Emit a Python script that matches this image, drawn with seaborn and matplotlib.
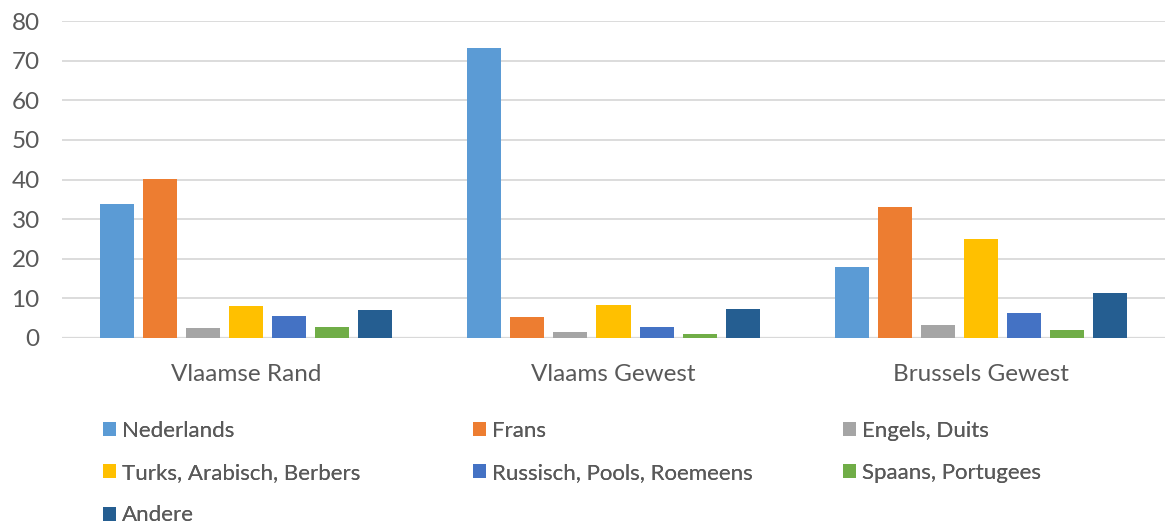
import numpy as np
import pandas as pd
import matplotlib
matplotlib.use("Agg")
import matplotlib.pyplot as plt
import seaborn as sns
from matplotlib.patches import Patch

# data
regions = ["Vlaamse Rand", "Vlaams Gewest", "Brussels Gewest"]
languages = ["Nederlands", "Frans", "Engels, Duits", "Turks, Arabisch, Berbers",
             "Russisch, Pools, Roemeens", "Spaans, Portugees", "Andere"]
nederlands = [33.7, 73.1, 17.9]
frans = [40.2, 5.3, 33.1]
engels_duits = [2.5, 1.4, 3.4]
turks_arabisch = [8.0, 8.3, 25.0]
russisch_pools = [5.6, 2.9, 6.4]
spaans_portugees = [2.9, 1.0, 2.1]
andere = [7.1, 7.4, 11.3]
colors = ["#5B9BD5", "#ED7D31", "#A5A5A5", "#FFC000", "#4472C4", "#70AD47", "#255E91"]

series = [nederlands, frans, engels_duits, turks_arabisch, russisch_pools, spaans_portugees, andere]
rows = []
for lang, vals in zip(languages, series):
    for reg, v in zip(regions, vals):
        rows.append({"region": reg, "language": lang, "value": v})
df = pd.DataFrame(rows)

sns.set_style("white")
plt.rcParams["font.family"] = ["Lato", "DejaVu Sans"]
txt = "#595959"

fig = plt.figure(figsize=(11.68, 5.27), dpi=100)
ax = fig.add_axes([62 / 1168, 1 - 338 / 527, 1103 / 1168, 317 / 527])

sns.barplot(data=df, x="region", y="value", hue="language", hue_order=languages,
            order=regions, palette=colors, saturation=1, width=0.82, gap=0.21,
            linewidth=0, legend=False, ax=ax)

ax.set_ylim(0, 80)
ax.set_yticks(np.arange(0, 81, 10))
ax.yaxis.grid(True, color="#D9D9D9", linewidth=1.3)
ax.set_axisbelow(True)
for s in ax.spines.values():
    s.set_visible(False)
ax.axhline(0, color="#D9D9D9", linewidth=1.6, zorder=0.5)
ax.set_xlabel("")
ax.set_ylabel("")
ax.tick_params(axis="y", labelsize=17.5, labelcolor=txt, length=0, pad=16)
ax.tick_params(axis="x", labelsize=17.5, labelcolor=txt, length=0, pad=18.5)

# legend, row-wise in three fixed columns
col_x = [103 / 1168, 473 / 1168, 843 / 1168]
for c in range(3):
    idx = list(range(c, len(languages), 3))
    handles = [Patch(facecolor=colors[i], edgecolor="none") for i in idx]
    labels = [languages[i] for i in idx]
    leg = fig.legend(handles, labels, loc="upper left",
                     bbox_to_anchor=(col_x[c], 1 - 421 / 527), frameon=False,
                     fontsize=16, labelcolor=txt, handlelength=0.6, handleheight=0.6,
                     handletextpad=0.25, labelspacing=1.0, borderaxespad=0, borderpad=0)
    fig.add_artist(leg)

fig.savefig("out.png", dpi=100)
